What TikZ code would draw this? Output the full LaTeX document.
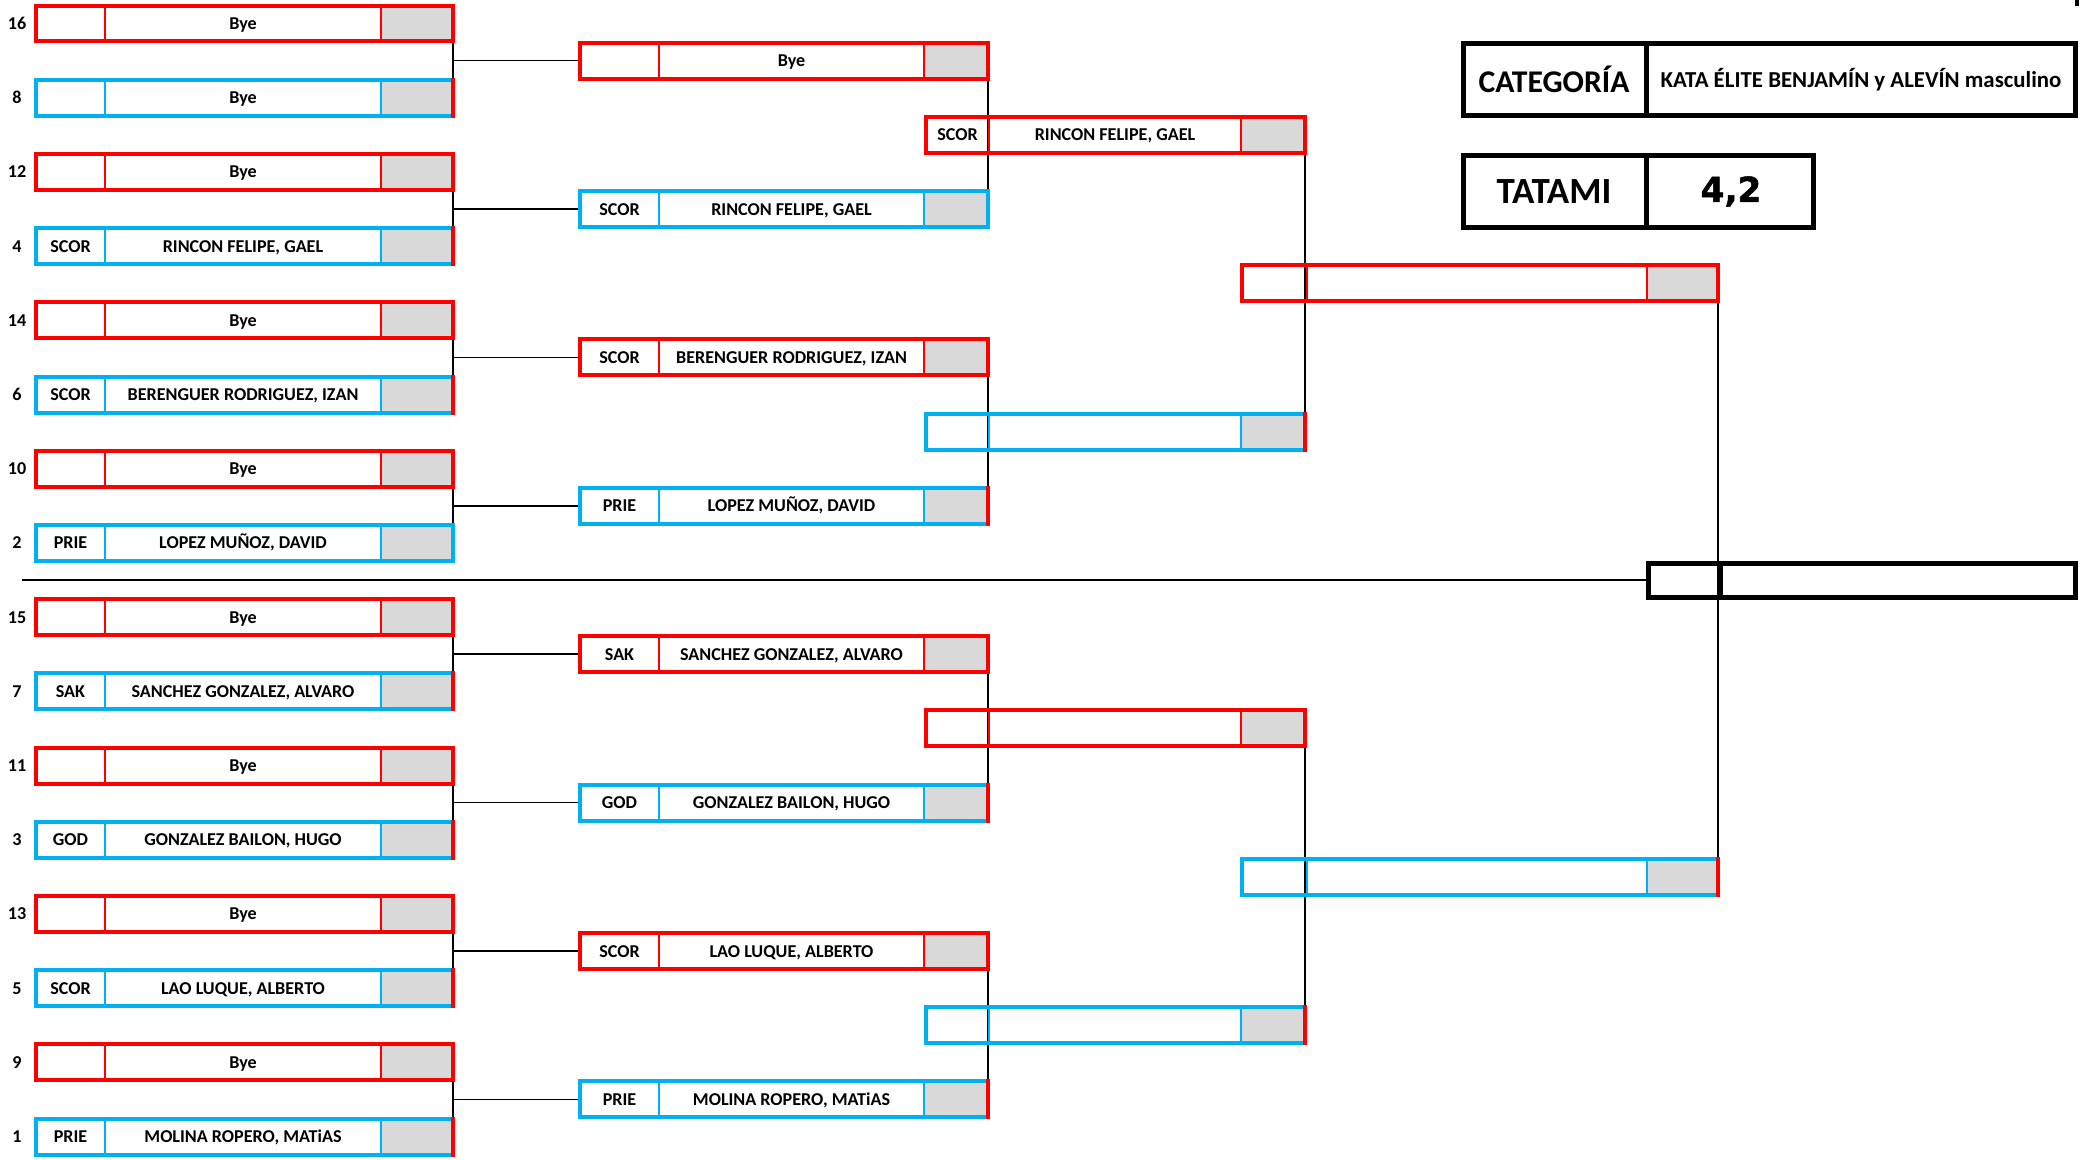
\documentclass[tikz,border=0pt]{standalone}
\usepackage{fontspec}
\setmainfont{Carlito}
\newfontfamily\numfont{DejaVu Sans}[BoldFeatures={FakeBold=1.5}]
\usetikzlibrary{backgrounds}
\definecolor{bred}{HTML}{FF0000}
\definecolor{bblue}{HTML}{00B0F0}
\definecolor{cellgrey}{HTML}{D9D9D9}
\tikzset{
 slotbox/.style={rectangle, outer sep=0pt, inner sep=0pt, line width=0.08cm},
 divline/.style={line width=0.055cm},
 celltext/.style={font=\fontsize{10.3}{12}\selectfont\bfseries, inner sep=0pt, text=black, anchor=base},
 seedtext/.style={font=\fontsize{10.3}{12}\selectfont\bfseries, inner sep=0pt, text=black, anchor=base},
 redge/.style={bred, line width=0.08cm, line cap=rect},
 vconn/.style={black, line width=0.05cm},
 hconn/.style={black, line width=0.035cm},
 headbox/.style={rectangle, draw=black, line width=0.1cm, outer sep=0pt, inner sep=0pt},
 headdiv/.style={black, line width=0.1cm},
}
\newcommand\bslot[9]{%
  \fill[cellgrey] (#6,#7-18) rectangle (#4,#7+18);
  \node[slotbox, draw=#2, minimum width={(#4-#3)*0.02cm}, minimum height=0.72cm] (#1) at ({(#3+#4)/2},#7) {};
  \draw[#2, divline] (#5,#7-18) -- (#5,#7+18);
  \draw[#2, divline] (#6,#7-18) -- (#6,#7+18);
  \ifx\relax#8\relax\else\node[celltext] (#1c) at ({(#3+#5)/2},#7+6) {#8};\fi
  \ifx\relax#9\relax\else\node[celltext] (#1n) at ({(#5+#6)/2},#7+6) {#9};\fi
}
\newcommand\redright[1]{\draw[redge] (#1.north east) -- (#1.south east);}
\newcommand\seed[3]{\node[seedtext] (#1) at (17,#2+6) {#3};}
\begin{document}
\begin{tikzpicture}[x=0.02cm, y=-0.02cm]
\useasboundingbox (0,0) rectangle (2081,1159);
% ---------------- round 1
\bslot{s1-0}{bred}{36}{453}{105}{381}{23.5}{}{Bye}\seed{n0}{23.5}{16}
\bslot{s1-1}{bblue}{36}{453}{105}{381}{97.7}{}{Bye}\redright{s1-1}\seed{n1}{97.7}{8}
\bslot{s1-2}{bred}{36}{453}{105}{381}{171.9}{}{Bye}\seed{n2}{171.9}{12}
\bslot{s1-3}{bblue}{36}{453}{105}{381}{246.1}{SCOR}{RINCON FELIPE, GAEL}\redright{s1-3}\seed{n3}{246.1}{4}
\bslot{s1-4}{bred}{36}{453}{105}{381}{320.3}{}{Bye}\seed{n4}{320.3}{14}
\bslot{s1-5}{bblue}{36}{453}{105}{381}{394.5}{SCOR}{BERENGUER RODRIGUEZ, IZAN}\redright{s1-5}\seed{n5}{394.5}{6}
\bslot{s1-6}{bred}{36}{453}{105}{381}{468.7}{}{Bye}\seed{n6}{468.7}{10}
\bslot{s1-7}{bblue}{36}{453}{105}{381}{542.9}{PRIE}{LOPEZ MUÑOZ, DAVID}\seed{n7}{542.9}{2}
\bslot{s1-8}{bred}{36}{453}{105}{381}{617.1}{}{Bye}\seed{n8}{617.1}{15}
\bslot{s1-9}{bblue}{36}{453}{105}{381}{691.3}{SAK}{SANCHEZ GONZALEZ, ALVARO}\redright{s1-9}\seed{n9}{691.3}{7}
\bslot{s1-10}{bred}{36}{453}{105}{381}{765.5}{}{Bye}\seed{n10}{765.5}{11}
\bslot{s1-11}{bblue}{36}{453}{105}{381}{839.7}{GOD}{GONZALEZ BAILON, HUGO}\redright{s1-11}\seed{n11}{839.7}{3}
\bslot{s1-12}{bred}{36}{453}{105}{381}{913.9}{}{Bye}\seed{n12}{913.9}{13}
\bslot{s1-13}{bblue}{36}{453}{105}{381}{988.1}{SCOR}{LAO LUQUE, ALBERTO}\redright{s1-13}\seed{n13}{988.1}{5}
\bslot{s1-14}{bred}{36}{453}{105}{381}{1062.3}{}{Bye}\seed{n14}{1062.3}{9}
\bslot{s1-15}{bblue}{36}{453}{105}{381}{1136.5}{PRIE}{MOLINA ROPERO, MATiAS}\redright{s1-15}\seed{n15}{1136.5}{1}
% ---------------- round 2
\bslot{s2-0}{bred}{580}{988}{659}{924}{60.6}{}{Bye}
\bslot{s2-1}{bblue}{580}{988}{659}{924}{209.0}{SCOR}{RINCON FELIPE, GAEL}
\bslot{s2-2}{bred}{580}{988}{659}{924}{357.4}{SCOR}{BERENGUER RODRIGUEZ, IZAN}
\bslot{s2-3}{bblue}{580}{988}{659}{924}{505.8}{PRIE}{LOPEZ MUÑOZ, DAVID}\redright{s2-3}
\bslot{s2-4}{bred}{580}{988}{659}{924}{654.2}{SAK}{SANCHEZ GONZALEZ, ALVARO}
\bslot{s2-5}{bblue}{580}{988}{659}{924}{802.6}{GOD}{GONZALEZ BAILON, HUGO}\redright{s2-5}
\bslot{s2-6}{bred}{580}{988}{659}{924}{951.0}{SCOR}{LAO LUQUE, ALBERTO}
\bslot{s2-7}{bblue}{580}{988}{659}{924}{1099.4}{PRIE}{MOLINA ROPERO, MATiAS}\redright{s2-7}
% ---------------- round 3
\bslot{s3-0}{bred}{926}{1305}{989}{1241}{134.8}{SCOR}{RINCON FELIPE, GAEL}
\bslot{s3-1}{bblue}{926}{1305}{989}{1241}{431.6}{}{}\redright{s3-1}
\bslot{s3-2}{bred}{926}{1305}{989}{1241}{728.4}{}{}
\bslot{s3-3}{bblue}{926}{1305}{989}{1241}{1025.2}{}{}\redright{s3-3}
% ---------------- round 4
\bslot{s4-0}{bred}{1242}{1718}{1307}{1647}{283.2}{}{}
\bslot{s4-1}{bblue}{1242}{1718}{1307}{1647}{876.8}{}{}\redright{s4-1}
% ---------------- final
\node[headbox, minimum width={427*0.02cm}, minimum height={34*0.02cm}] (fin) at (1861.5,580) {};
\draw[headdiv] (1720,563) -- (1720,597);
\coordinate (sepstart) at (22,580);
% ---------------- header boxes
\node[headbox, minimum width={612*0.02cm}, minimum height={72*0.02cm}] (catbox) at (1769.5,79.5) {};
\draw[headdiv] (1646,43.5) -- (1646,115.5);
\node[inner sep=0pt, font=\fontsize{18}{20}\selectfont\bfseries] (catlab) at (1554,79.5) {CATEGORÍA};
\node[inner sep=0pt, font=\fontsize{13}{15}\selectfont\bfseries] (catval) at (1861,79.5) {KATA ÉLITE BENJAMÍN y ALEVÍN masculino};
\node[headbox, minimum width={350*0.02cm}, minimum height={72*0.02cm}] (tatbox) at (1638.5,191.5) {};
\draw[headdiv] (1646,155.5) -- (1646,227.5);
\node[inner sep=0pt, font=\fontsize{21}{23}\selectfont\bfseries] (tatlab) at (1554,191.5) {TATAMI};
\node[inner sep=0pt, font=\numfont\fontsize{19.5}{22}\selectfont\bfseries] (tatval) at (1731,191.5) {4,2};
\fill[black] (2075,0) rectangle (2079,6);
% ---------------- connectors
\begin{scope}[on background layer]
\foreach \k in {0,...,7}{
  \pgfmathtruncatemacro\a{2*\k}\pgfmathtruncatemacro\b{2*\k+1}
  \draw[vconn] (s1-\a.south east) -- (s1-\b.north east);
  \draw[hconn] (s2-\k.west) -- (s2-\k.west -| s1-\a.east);
}
\foreach \k in {0,...,3}{
  \pgfmathtruncatemacro\a{2*\k}\pgfmathtruncatemacro\b{2*\k+1}
  \draw[vconn] (s2-\a.south east) -- (s2-\b.north east);
}
\foreach \k in {0,1}{
  \pgfmathtruncatemacro\a{2*\k}\pgfmathtruncatemacro\b{2*\k+1}
  \draw[vconn] (s3-\a.south east) -- (s3-\b.north east);
}
\draw[vconn] (s4-0.south east) -- (s4-1.north east);
\draw[hconn] (fin.west) -- (sepstart);
\end{scope}
\end{tikzpicture}
\end{document}
